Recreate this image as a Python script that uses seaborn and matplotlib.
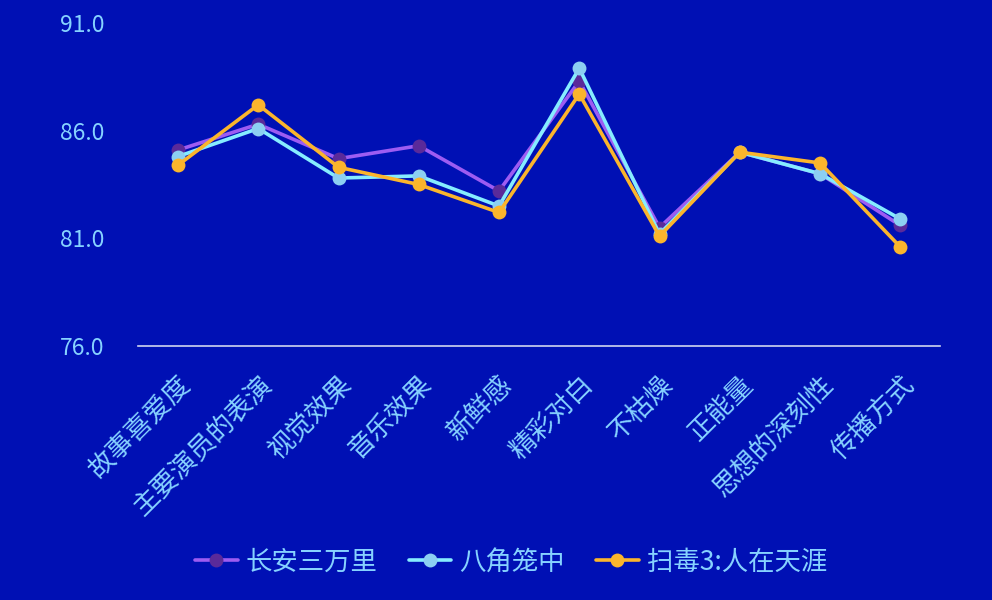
import numpy as np
import pandas as pd
import seaborn as sns
import matplotlib.pyplot as plt

# Data
categories = ["故事喜爱度", "主要演员的表演", "视觉效果", "音乐效果", "新鲜感",
              "精彩对白", "不枯燥", "正能量", "思想的深刻性", "传播方式"]
changan = [85.1, 86.3, 84.7, 85.3, 83.2, 88.3, 81.5, 85.0, 84.0, 81.6]
bajiao = [84.8, 86.1, 83.8, 83.9, 82.5, 88.9, 81.2, 85.0, 84.0, 81.9]
saodu = [84.4, 87.2, 84.3, 83.5, 82.2, 87.7, 81.1, 85.0, 84.5, 80.6]
series_names = ["长安三万里", "八角笼中", "扫毒3:人在天涯"]
y_ticks = [76.0, 81.0, 86.0, 91.0]

BG = "#0010b4"
TEXT = "#86d2ff"
line_colors = ["#9d5cf2", "#86ecff", "#fbb52c"]
marker_colors = ["#5a2a9a", "#8ccff2", "#fbb52c"]

sns.set_theme(style="white")
plt.rcParams["font.family"] = ["Noto Sans CJK SC", "DejaVu Sans"]

fig = plt.figure(figsize=(9.92, 6.0), dpi=100, facecolor=BG)
ax = fig.add_axes([0.139, 0.4233, 0.809, 0.5384], facecolor=BG)

x = np.arange(len(categories))
for name, vals, lc, mc in zip(series_names, [changan, bajiao, saodu], line_colors, marker_colors):
    df = pd.DataFrame({"x": x, "y": vals})
    sns.lineplot(data=df, x="x", y="y", ax=ax, color=lc, linewidth=2.6,
                 marker="o", markersize=10, markerfacecolor=mc,
                 markeredgecolor=mc, markeredgewidth=0, label=name, sort=False)

ax.set_xlim(-0.5, len(categories) - 0.5)
ax.set_ylim(76, 91)
ax.set_yticks(y_ticks)
ax.set_yticklabels([f"{v:.1f}" for v in y_ticks], color=TEXT, fontsize=16.5)
ax.set_xticks(x)
ax.set_xticklabels(categories, rotation=45, ha="right", rotation_mode="anchor",
                   color=TEXT, fontsize=19)
ax.tick_params(axis="y", length=0, pad=24)
ax.tick_params(axis="x", length=0, pad=18)
ax.set_xlabel("")
ax.set_ylabel("")
for s in ["top", "right", "left"]:
    ax.spines[s].set_visible(False)
ax.spines["bottom"].set_color("#d0d6f0")
ax.spines["bottom"].set_linewidth(1.2)
ax.grid(False)

leg = ax.legend(loc="center", bbox_to_anchor=(0.465, -0.669), ncol=3, frameon=False,
                fontsize=19, handlelength=1.6, columnspacing=1.2, handletextpad=0.3)
for t in leg.get_texts():
    t.set_color(TEXT)

fig.savefig("out.png", dpi=100, facecolor=BG)
